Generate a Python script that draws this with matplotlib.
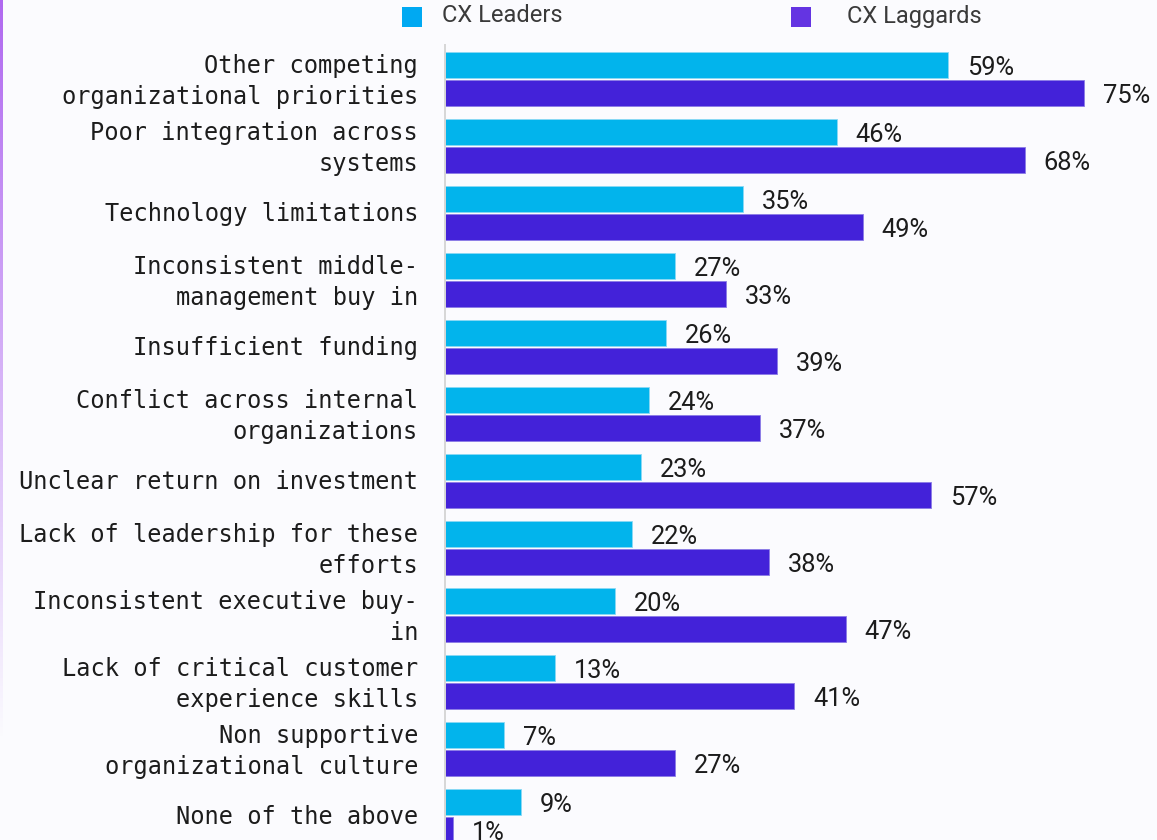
import numpy as np
import matplotlib
matplotlib.use("Agg")
import matplotlib.pyplot as plt
from matplotlib.patches import Rectangle
from matplotlib.transforms import ScaledTranslation

# ---- data -------------------------------------------------------------
categories = [
    "Other competing\norganizational priorities",
    "Poor integration across\nsystems",
    "Technology limitations",
    "Inconsistent middle-\nmanagement buy in",
    "Insufficient funding",
    "Conflict across internal\norganizations",
    "Unclear return on investment",
    "Lack of leadership for these\nefforts",
    "Inconsistent executive buy-\nin",
    "Lack of critical customer\nexperience skills",
    "Non supportive\norganizational culture",
    "None of the above",
]
leaders = [59, 46, 35, 27, 26, 24, 23, 22, 20, 13, 7, 9]
laggards = [75, 68, 49, 33, 39, 37, 57, 38, 47, 41, 27, 1]
series_names = ["CX Leaders", "CX Laggards"]

# ---- style ------------------------------------------------------------
BG = "#FBFBFE"
C_LEAD = "#02B4EC"
C_LAG = "#4322D9"
C_LEAD_KEY = "#00A9F2"
C_LAG_KEY = "#6434E2"
TEXT = "#1C1C1C"

W, H, DPI = 1157, 840, 100
fig = plt.figure(figsize=(W / DPI, H / DPI), dpi=DPI, facecolor=BG)

left_px, top_px = 444.5, 45
ax = fig.add_axes([left_px / W, 0, 1 - left_px / W, 1 - top_px / H])
ax.set_facecolor(BG)

n = len(categories)
y = np.arange(n)
off = 0.209
bh = 0.388

ax.barh(y - off, leaders, height=bh, color=C_LEAD,
        edgecolor="#8AD9F4", linewidth=0.6)
ax.barh(y + off, laggards, height=bh, color=C_LAG,
        edgecolor="#8C7BE6", linewidth=0.6)

val_font = dict(family=["Roboto", "DejaVu Sans"], size=18.3, color=TEXT)
for yi, v in zip(y - off, leaders):
    ax.annotate(f"{v}%", xy=(v, yi), xytext=(13.5, -2.3), textcoords="offset points",
                ha="left", va="center", **val_font)
for yi, v in zip(y + off, laggards):
    ax.annotate(f"{v}%", xy=(v, yi), xytext=(13.5, -2.3), textcoords="offset points",
                ha="left", va="center", annotation_clip=False, **val_font)

ax.set_xlim(0, 83.5)
ax.set_ylim(11.36, -0.507)
ax.set_xticks([])
ax.set_yticks(y)
ax.set_yticklabels(categories, family=["DejaVu Sans Mono"], fontsize=17,
                   color=TEXT, linespacing=1.4)
ax.tick_params(axis="y", length=0, pad=19)
for lab in ax.get_yticklabels():
    dy = 2.6 if "\n" in lab.get_text() else 1.2
    lab.set_transform(lab.get_transform()
                      + ScaledTranslation(0, dy / 72, fig.dpi_scale_trans))
for s in ("top", "right", "bottom"):
    ax.spines[s].set_visible(False)
ax.spines["left"].set_color("#D6D6D6")
ax.spines["left"].set_linewidth(1.4)

# ---- legend -----------------------------------------------------------
key_colors = [C_LEAD_KEY, C_LAG_KEY]
key_x = [402, 791]
text_x = [442, 847]
for name, col, kx, tx in zip(series_names, key_colors, key_x, text_x):
    fig.patches.append(Rectangle((kx / W, 1 - 27 / H), 20 / W, 20 / H,
                                 transform=fig.transFigure, facecolor=col,
                                 edgecolor="none"))
    fig.text(tx / W, 1 - 16 / H, name, ha="left", va="center",
             family=["Roboto", "DejaVu Sans"], fontsize=17,
             color="#3A3A3A")

# ---- fading accent line on the left edge -----------------------------
grad_ax = fig.add_axes([0, 0, 2.5 / W, 1])
grad_ax.set_axis_off()
rows = 400
alpha = np.clip(1 - np.linspace(0, 1, rows) / 0.88, 0, 1)
img = np.zeros((rows, 1, 4))
img[:, 0, :3] = np.array([176, 104, 240]) / 255
img[:, 0, 3] = alpha
grad_ax.imshow(img, aspect="auto", interpolation="bilinear",
               extent=(0, 1, 0, 1), origin="upper")

fig.savefig("out.png", dpi=DPI, facecolor=BG)
